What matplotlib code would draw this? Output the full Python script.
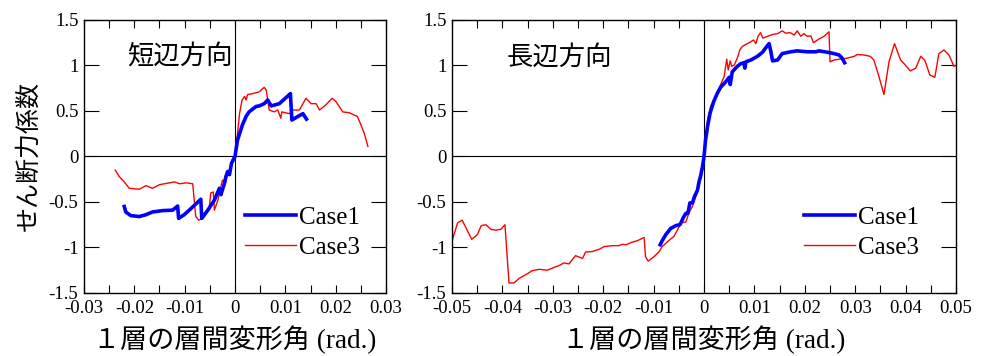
import numpy as np
import matplotlib
matplotlib.use("Agg")
import matplotlib.pyplot as plt
from matplotlib.ticker import MultipleLocator, FuncFormatter

plt.rcParams['font.family'] = ['Liberation Serif', 'Noto Sans CJK JP']
plt.rcParams['axes.unicode_minus'] = False

# short side (left panel)
short_c3_x = [-0.0238, -0.0230, -0.0220, -0.0210, -0.0190, -0.0177, -0.0164, -0.0150, -0.0130,
              -0.0120, -0.0110, -0.0097, -0.0084, -0.0081, -0.0078, -0.0072, -0.0064, -0.0058,
              -0.0051, -0.0048, -0.0043, -0.0041, -0.0034, -0.0031, -0.0028, -0.0025, -0.0018,
              -0.0015, -0.0010, -0.0006, -0.0001, 0.0002, 0.0005, 0.0009, 0.0014, 0.0019,
              0.0022, 0.0025, 0.0035, 0.0048, 0.0058, 0.0062, 0.0068, 0.0078, 0.0085, 0.0091,
              0.0093, 0.0108, 0.0115, 0.0128, 0.0141, 0.0151, 0.0161, 0.0168, 0.0181, 0.0193,
              0.0201, 0.0214, 0.0227, 0.0243, 0.0250, 0.0257, 0.0264]
short_c3_y = [-0.15, -0.22, -0.28, -0.35, -0.36, -0.32, -0.35, -0.31, -0.29,
              -0.28, -0.30, -0.29, -0.30, -0.48, -0.66, -0.70, -0.68, -0.62,
              -0.55, -0.40, -0.39, -0.59, -0.48, -0.40, -0.33, -0.26, -0.28,
              -0.15, -0.185, -0.04, 0.0, 0.11, 0.25, 0.47, 0.62, 0.66,
              0.62, 0.68, 0.69, 0.71, 0.76, 0.73, 0.51, 0.49, 0.51, 0.42,
              0.49, 0.47, 0.51, 0.51, 0.64, 0.58, 0.58, 0.51, 0.57, 0.64,
              0.60, 0.49, 0.48, 0.44, 0.35, 0.25, 0.11]

short_c1_x = [-0.0220, -0.0217, -0.0207, -0.0190, -0.0177, -0.0164, -0.0144, -0.0124, -0.0114,
              -0.0112, -0.0101, -0.0087, -0.0068, -0.0066, -0.0054, -0.0041, -0.0031, -0.0028,
              -0.0021, -0.0018, -0.0015, -0.0011, -0.0007, 0.0, 0.0005, 0.0009, 0.0015,
              0.0022, 0.0028, 0.0042, 0.0048, 0.0058, 0.0065, 0.0072, 0.0088, 0.0108,
              0.0110, 0.0113, 0.0125, 0.0135, 0.0142]
short_c1_y = [-0.55, -0.61, -0.65, -0.66, -0.64, -0.61, -0.595, -0.59, -0.545,
              -0.68, -0.64, -0.57, -0.47, -0.68, -0.59, -0.48, -0.35, -0.42,
              -0.295, -0.22, -0.17, -0.20, -0.075, 0.0, 0.18, 0.25, 0.35,
              0.44, 0.49, 0.55, 0.555, 0.58, 0.62, 0.555, 0.58, 0.68,
              0.69, 0.40, 0.44, 0.47, 0.41]

# long side (right panel)
long_c3_x = [-0.0499, -0.0489, -0.0480, -0.0470, -0.0461, -0.0450, -0.0442, -0.0433, -0.0423,
             -0.0413, -0.0403, -0.0395, -0.0387, -0.0377, -0.0367, -0.0354, -0.0341, -0.0327,
             -0.0311, -0.0298, -0.0288, -0.0278, -0.0268, -0.0255, -0.0241, -0.0235, -0.0222,
             -0.0208, -0.0198, -0.0182, -0.0169, -0.0162, -0.0155, -0.0142, -0.0132, -0.0119,
             -0.0116, -0.0111, -0.0099, -0.0089, -0.0083, -0.0069, -0.0060, -0.0053, -0.0046,
             -0.0036, -0.0030, -0.0023, -0.0019, -0.0013, -0.0008, -0.0003, 0.0, 0.0003,
             0.0007, 0.0013, 0.0023, 0.0033, 0.0040, 0.0045, 0.0048, 0.0052, 0.0055,
             0.0060, 0.0066, 0.0071, 0.0076, 0.0086, 0.0093, 0.0098, 0.0103, 0.0107,
             0.0112, 0.0117, 0.0126, 0.0136, 0.0146, 0.0155, 0.0162, 0.0171, 0.0179,
             0.0185, 0.0192, 0.0198, 0.0205, 0.0212, 0.0217, 0.0228, 0.0238, 0.0248,
             0.0250, 0.0258, 0.0271, 0.0284, 0.0298, 0.0304, 0.0317, 0.0330, 0.0337,
             0.0347, 0.0357, 0.0367, 0.0378, 0.0390, 0.0397, 0.0409, 0.0420, 0.0430,
             0.0438, 0.0448, 0.0458, 0.0466, 0.0476, 0.0486, 0.0496, 0.0501]
long_c3_y = [-0.91, -0.73, -0.70, -0.81, -0.91, -0.86, -0.76, -0.75, -0.80,
             -0.81, -0.80, -0.75, -1.39, -1.39, -1.34, -1.30, -1.255, -1.24,
             -1.25, -1.22, -1.20, -1.17, -1.18, -1.09, -1.12, -1.05, -1.045,
             -1.02, -0.99, -0.98, -0.98, -0.965, -0.97, -0.94, -0.925, -0.89,
             -1.10, -1.15, -1.10, -1.045, -0.99, -0.92, -0.88, -0.81, -0.73,
             -0.72, -0.62, -0.55, -0.48, -0.39, -0.28, -0.15, 0.0, 0.18,
             0.40, 0.55, 0.66, 0.79, 0.88, 1.07, 0.95, 1.05, 0.99,
             1.005, 1.08, 1.17, 1.21, 1.24, 1.26, 1.28, 1.24, 1.32,
             1.36, 1.30, 1.32, 1.34, 1.35, 1.38, 1.355, 1.36, 1.335,
             1.38, 1.32, 1.35, 1.32, 1.325, 1.25, 1.29, 1.32, 1.37,
             1.04, 1.06, 1.07, 1.08, 1.10, 1.12, 1.115, 1.10, 1.06,
             0.88, 0.68, 1.04, 1.24, 1.06, 1.02, 0.94, 0.97, 1.10,
             1.06, 0.895, 0.87, 1.13, 1.17, 1.115, 0.99, 1.005]

long_c1_x = [-0.0087, -0.0083, -0.0076, -0.0066, -0.0056, -0.0048, -0.0045, -0.0041, -0.0036,
             -0.0032, -0.0028, -0.0023, -0.0019, -0.0013, -0.0010, -0.0007, -0.0003, 0.0,
             0.0003, 0.0007, 0.0012, 0.0019, 0.0026, 0.0033, 0.0043, 0.0050, 0.0052,
             0.0056, 0.0066, 0.0073, 0.0079, 0.0081, 0.0083, 0.0093, 0.0106, 0.0116,
             0.0122, 0.0129, 0.0132, 0.0136, 0.0146, 0.0155, 0.0172, 0.0185, 0.0205,
             0.0222, 0.0228, 0.0245, 0.0258, 0.0268, 0.0274, 0.0279]
long_c1_y = [-0.97, -0.925, -0.86, -0.79, -0.76, -0.75, -0.72, -0.67, -0.625,
             -0.625, -0.51, -0.51, -0.44, -0.37, -0.28, -0.22, -0.11, 0.0,
             0.18, 0.33, 0.475, 0.60, 0.69, 0.76, 0.82, 0.87, 0.79,
             0.93, 0.99, 1.02, 1.03, 0.97, 1.04, 1.06, 1.10, 1.145,
             1.19, 1.24, 1.17, 1.05, 1.06, 1.13, 1.15, 1.16, 1.15,
             1.15, 1.16, 1.145, 1.13, 1.115, 1.08, 1.03]

xlabel = '１層の層間変形角 (rad.)'
ylabel = 'せん断力係数'


def fmt(v, p):
    return f'{v:g}' if abs(v) > 1e-9 else '0'


def style_axes(ax, xlim, title, title_x, leg_x):
    ax.set_xlim(*xlim)
    ax.set_ylim(-1.5, 1.5)
    ax.axhline(0, color='black', lw=0.8, zorder=1)
    ax.axvline(0, color='black', lw=0.8, zorder=1)
    ax.xaxis.set_major_locator(MultipleLocator(0.01))
    ax.xaxis.set_minor_locator(MultipleLocator(0.005))
    ax.yaxis.set_major_locator(MultipleLocator(0.5))
    ax.xaxis.set_major_formatter(FuncFormatter(fmt))
    ax.yaxis.set_major_formatter(FuncFormatter(fmt))
    ax.tick_params(axis='x', which='both', direction='in', top=True, bottom=True,
                   length=6, width=0.8, labelsize=13.5, pad=5)
    ax.tick_params(axis='y', which='both', direction='in', left=True, right=True,
                   length=11, width=0.8, labelsize=13.5, pad=4)
    for s in ax.spines.values():
        s.set_linewidth(1.0)
    ax.set_xlabel(xlabel, fontsize=19.5, labelpad=6)
    ax.text(title_x, 0.865, title, transform=ax.transAxes, fontsize=19,
            va='center', ha='left')
    ax.legend(loc='center left', bbox_to_anchor=(leg_x, 0.22), frameon=False,
              fontsize=18, handlelength=2.05, handletextpad=0.12, labelspacing=0.3,
              borderpad=0, borderaxespad=0)


fig = plt.figure(figsize=(9.87, 3.56), dpi=100)
ax1 = fig.add_axes([0.0851, 0.177, 0.306, 0.767])
ax2 = fig.add_axes([0.458, 0.177, 0.5106, 0.767])

ax1.plot(short_c1_x, short_c1_y, color='#0000ff', lw=2.6, label='Case1', zorder=3)
ax1.plot(short_c3_x, short_c3_y, color='#ff0000', lw=1.0, label='Case3', zorder=2)
style_axes(ax1, (-0.03, 0.03), '短辺方向', 0.142, 0.533)
ax1.set_ylabel(ylabel, fontsize=18, labelpad=6)

ax2.plot(long_c1_x, long_c1_y, color='#0000ff', lw=2.6, label='Case1', zorder=3)
ax2.plot(long_c3_x, long_c3_y, color='#ff0000', lw=1.0, label='Case3', zorder=2)
style_axes(ax2, (-0.05, 0.05), '長辺方向', 0.109, 0.698)

fig.savefig('out.png', dpi=100)
